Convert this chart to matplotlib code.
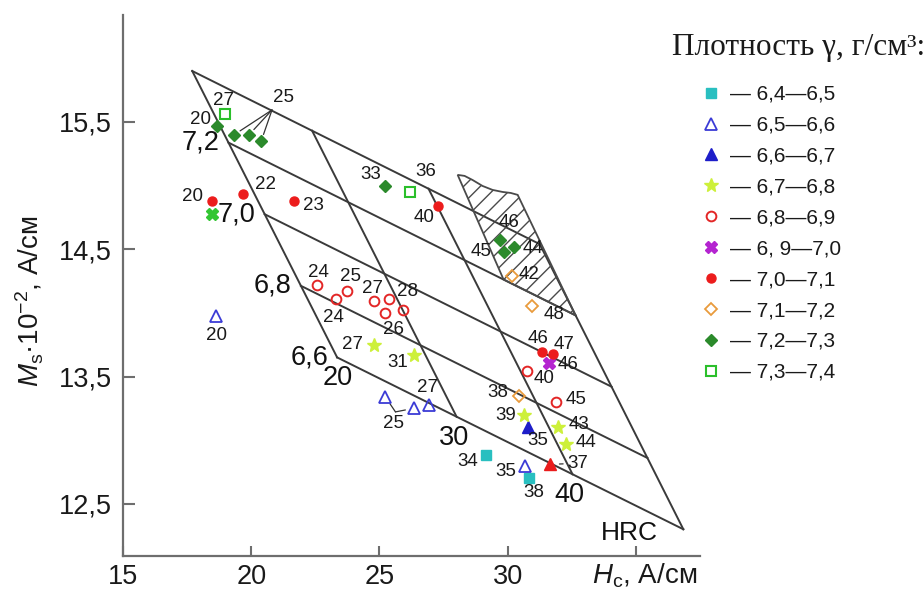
import matplotlib
matplotlib.use('Agg')
import matplotlib.pyplot as plt
from matplotlib.lines import Line2D
from matplotlib.patches import Polygon
import numpy as np

plt.rcParams['font.family'] = ['Liberation Sans', 'DejaVu Sans']
plt.rcParams['mathtext.fontset'] = 'custom'
plt.rcParams['mathtext.rm'] = 'Liberation Sans'
plt.rcParams['mathtext.it'] = 'Liberation Sans:italic'
plt.rcParams['hatch.linewidth'] = 1.0

# nomogram frame corners (Hc, Ms)
corner_tl = (17.70, 15.90)
corner_tr = (31.25, 14.54)
corner_bl = (23.35, 13.65)
corner_br = (36.85, 12.30)
density_levels = [0.25, 0.5, 0.75, 1.0]       # 7,2 / 7,0 / 6,8 / 6,6 lines
density_names = ['7,2', '7,0', '6,8', '6,6']
hrc_levels = [0.0, 0.345, 0.68]               # HRC 20 / 30 / 40 lines
hrc_names = ['20', '30', '40']

# hatched zone at the top right
zone_x = [28.05, 28.32, 28.63, 29.02, 29.41, 29.80, 30.12, 30.39, 32.65, 29.84]
zone_y = [15.084, 15.076, 15.044, 14.997, 14.966, 14.950, 14.942, 14.927, 13.98, 14.262]

# measured points, grouped by density g/cm3; hrc = hardness written next to the point
g64_x = [29.14, 30.82]
g64_y = [12.88, 12.70]
g64_hrc = ['34', '38']

g65_x = [18.63, 25.23, 26.33, 26.95, 30.66]
g65_y = [13.976, 13.34, 13.25, 13.28, 12.80]
g65_hrc = ['20', '', '', '27', '35']

g66_x = [30.78]
g66_y = [13.10]
g66_hrc = ['35']

g67_x = [24.80, 26.33, 30.63, 31.95, 32.27]
g67_y = [13.75, 13.67, 13.20, 13.10, 12.97]
g67_hrc = ['27', '31', '39', '43', '44']

g68_x = [22.58, 23.32, 23.75, 24.77, 25.20, 25.39, 25.90, 30.74, 31.875]
g68_y = [14.22, 14.11, 14.17, 14.09, 14.00, 14.11, 14.02, 13.54, 13.30]
g68_hrc = ['24', '24', '25', '27', '', '28', '26', '40', '45']

g69_x = [31.60]
g69_y = [13.61]
g69_hrc = ['46']

g70_x = [18.48, 19.69, 21.68, 27.27, 31.33, 31.76]
g70_y = [14.88, 14.93, 14.88, 14.84, 13.69, 13.68]
g70_hrc = ['20', '22', '23', '40', '46', '47']

g71_x = [30.16, 30.94, 30.43]
g71_y = [14.29, 14.055, 13.35]
g71_hrc = ['42', '48', '38']

g72_x = [18.67, 19.34, 19.92, 20.39, 25.23, 29.69, 29.84, 30.23]
g72_y = [15.47, 15.40, 15.40, 15.35, 15.00, 14.57, 14.48, 14.52]
g72_hrc = ['20', '', '', '', '33', '46', '45', '44']

g73_x = [18.98, 26.21]
g73_y = [15.56, 14.95]
g73_hrc = ['27', '36']

# odd points
tri37_x, tri37_y = 31.64, 12.81
cross_x, cross_y = 18.48, 14.78

# shared hardness for grouped points
group25_diamonds = [1, 2, 3]     # indices in g72
group25_triangles = [1, 2]       # indices in g65

legend_names = ['6,4—6,5', '6,5—6,6', '6,6—6,7', '6,7—6,8', '6,8—6,9',
                '6, 9—7,0', '7,0—7,1', '7,1—7,2', '7,2—7,3', '7,3—7,4']

# label offsets in pixels (dx, dy up)
off64 = [(-18, -6), (5, -14)]
off65 = [(0, -20), None, None, (-2, 17), (-19, -6)]
off66 = [(10, -13)]
off67 = [(-22, 0), (-16, -8), (-18, -1), (21, 3), (20, 1)]
off68 = [(1, 12), (-3, -19), (3, 15), (-1, 13), None, (18, 7), (-9, -19), (17, -7), (20, 2)]
off69 = [(19, -2)]
off70 = [(-20, 4), (22, 10), (19, -5), (-14, -12), (-4, 14), (11, 9)]
off71 = [(17, 1), (22, -9), (-21, 3)]
off72 = [(-17, 6), None, None, None, (-15, 11), (9, 18), (-23, 0), (19, -2)]
off73 = [(-2, 14), (15, 20)]

series = [
    (g64_x, g64_y, g64_hrc, off64, dict(marker='s', ms=6.5, mfc='#29bfc0', mec='#29bfc0')),
    (g65_x, g65_y, g65_hrc, off65, dict(marker='^', ms=8.5, mfc='none', mec='#3b3bd6', mew=1.3)),
    (g66_x, g66_y, g66_hrc, off66, dict(marker='^', ms=8.5, mfc='#1d1dc9', mec='#1d1dc9')),
    (g67_x, g67_y, g67_hrc, off67, dict(marker='*', ms=10, mfc='#cdf03a', mec='#cdf03a')),
    (g68_x, g68_y, g68_hrc, off68, dict(marker='o', ms=7, mfc='none', mec='#e32626', mew=1.4)),
    (g69_x, g69_y, g69_hrc, off69, dict(marker='X', ms=8, mfc='#b424d0', mec='#b424d0')),
    (g70_x, g70_y, g70_hrc, off70, dict(marker='o', ms=6.5, mfc='#ec1c1c', mec='#ec1c1c')),
    (g71_x, g71_y, g71_hrc, off71, dict(marker='D', ms=6.5, mfc='none', mec='#e99b3c', mew=1.3)),
    (g72_x, g72_y, g72_hrc, off72, dict(marker='D', ms=6.5, mfc='#2b8a2b', mec='#2b8a2b')),
    (g73_x, g73_y, g73_hrc, off73, dict(marker='s', ms=7, mfc='none', mec='#2bbf2b', mew=1.5)),
]

fig = plt.figure(figsize=(9.24, 5.91), dpi=100)
ax = fig.add_axes([123 / 924, 35 / 591, 577 / 924, 541 / 591])
ax.set_xlim(15, 37.5)
ax.set_ylim(12.09, 16.34)

line_kw = dict(color='#3a3a3a', lw=1.4, zorder=2)
tl, tr, bl, br = [np.array(c) for c in (corner_tl, corner_tr, corner_bl, corner_br)]

# frame top + density lines
ax.plot([tl[0], tr[0]], [tl[1], tr[1]], **line_kw)
for v, name in zip(density_levels, density_names):
    a = tl + (bl - tl) * v
    b = tr + (br - tr) * v
    ax.plot([a[0], b[0]], [a[1], b[1]], **line_kw)
    ax.annotate(name, xy=a, xytext=(-28, 0), textcoords='offset pixels',
                ha='center', va='center', fontsize=19.5, color='#111111')

# HRC lines + right edge
for u, name in zip(hrc_levels, hrc_names):
    a = tl + (tr - tl) * u
    b = bl + (br - bl) * u
    ax.plot([a[0], b[0]], [a[1], b[1]], **line_kw)
    ax.annotate(name, xy=b, xytext=(-3 if u else 1, -21), textcoords='offset pixels',
                ha='center', va='center', fontsize=19.5, color='#111111')
ax.plot([tr[0], br[0]], [tr[1], br[1]], **line_kw)
ax.annotate('HRC', xy=br, xytext=(-54, -4), textcoords='offset pixels',
            ha='center', va='center', fontsize=19, color='#111111')

ax.add_patch(Polygon(np.column_stack([zone_x, zone_y]), closed=True, fill=False,
                     hatch='//', edgecolor='#4a4a4a', lw=1.3, zorder=2))

lab_kw = dict(textcoords='offset pixels', ha='center', va='center', fontsize=13.5, color='#1a1a1a', zorder=5)
handles = []
for xs, ys, hrc, offs, st in series:
    ax.plot(xs, ys, ls='none', zorder=4, **st)
    handles.append(Line2D([], [], ls='none', **st))
    for x, y, h, o in zip(xs, ys, hrc, offs):
        if h and o:
            ax.annotate(h, xy=(x, y), xytext=o, **lab_kw)

ax.plot([cross_x], [cross_y], ls='none', marker='X', ms=8, mfc='#33c633', mec='#33c633', zorder=4)
ax.plot([tri37_x], [tri37_y], ls='none', marker='^', ms=8.5, mfc='#ea1c1c', mec='#ea1c1c', zorder=4)
ax.annotate('37', xy=(tri37_x, tri37_y), xytext=(28, 1),
            arrowprops=dict(arrowstyle='-', color='#333333', lw=0.9, shrinkA=1, shrinkB=7), **lab_kw)

# fan of leaders for the three HRC 25 diamonds
apex = (20.81, 15.594)
for i in group25_diamonds:
    ax.annotate('', xy=(g72_x[i], g72_y[i]), xytext=apex, textcoords='data',
                arrowprops=dict(arrowstyle='-', color='#333333', lw=0.9, shrinkA=0, shrinkB=5))
ax.annotate('25', xy=apex, xytext=(12, 12), **lab_kw)

# bracket for the two HRC 25 triangles
knee = (25.625, 13.222)
for i in group25_triangles:
    ax.annotate('', xy=(g65_x[i], g65_y[i]), xytext=knee, textcoords='data',
                arrowprops=dict(arrowstyle='-', color='#333333', lw=0.9, shrinkA=0, shrinkB=6))
ax.annotate('25', xy=knee, xytext=(-2, -12), **lab_kw)

# axes
for s in ['top', 'right']:
    ax.spines[s].set_visible(False)
for s in ['left', 'bottom']:
    ax.spines[s].set_color('#6e6e6e')
    ax.spines[s].set_linewidth(1.6)
ax.set_xticks([15, 20, 25, 30, 35])
ax.set_xticklabels(['15', '20', '25', '30', ''])
ax.set_yticks([12.5, 13.5, 14.5, 15.5])
ax.set_yticklabels(['12,5', '13,5', '14,5', '15,5'])
ax.tick_params(axis='x', direction='in', length=7, width=1.5, color='#6e6e6e',
               labelsize=19.5, pad=6, labelcolor='#1a1a1a')
ax.tick_params(axis='y', direction='in', length=8.5, width=1.5, color='#6e6e6e',
               labelsize=19.5, pad=8, labelcolor='#1a1a1a')

fig.text(645 / 924, 1 - 576 / 591, r'$H_\mathrm{c}$, А/см', ha='center', va='center',
         fontsize=20, color='#1a1a1a')
fig.text(30 / 924, 1 - 301 / 591, r'$M_\mathrm{s}$·10$^{-2}$, А/см', ha='center', va='center',
         rotation=90, fontsize=20, color='#1a1a1a')

fig.text(672 / 924, 1 - 48 / 591, 'Плотность γ, г/см³:', ha='left', va='center',
         family=['Liberation Serif', 'DejaVu Serif'], fontsize=22.5, color='#1a1a1a')
fig.legend(handles, ['— ' + n for n in legend_names], loc='upper left',
           bbox_to_anchor=(701 / 924, 1 - 85 / 591), frameon=False, fontsize=15,
           handlelength=1.0, handletextpad=0.4, labelspacing=0.57,
           borderpad=0, borderaxespad=0, labelcolor='#1a1a1a')

fig.savefig('out.png', dpi=100)
